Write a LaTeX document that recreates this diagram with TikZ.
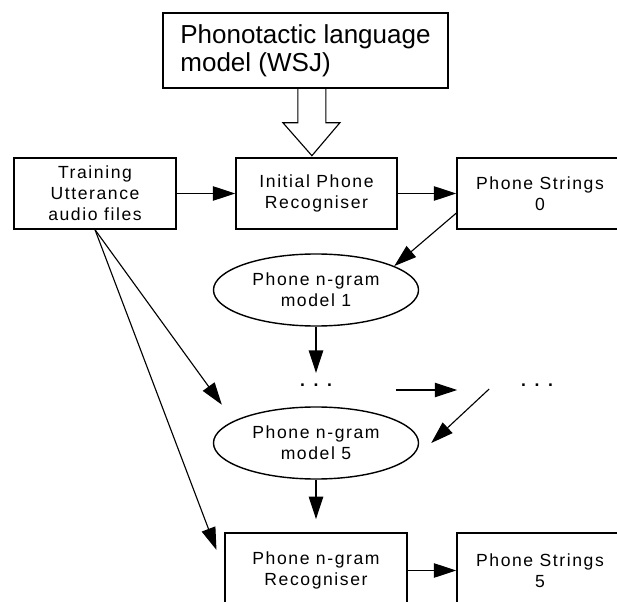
\documentclass[tikz,border=0pt]{standalone}
\usepackage{fontspec}
\setmainfont{Liberation Sans}
\newfontfamily\pixfont[LetterSpace=9]{Liberation Sans}
\usetikzlibrary{arrows.meta,shapes.geometric}

\begin{document}
\begin{tikzpicture}[x=0.025cm, y=-0.025cm,
  box/.style={draw, line width=1pt, minimum height=1.775cm, inner sep=0pt,
    align=center, font=\pixfont\fontsize{12.5}{15}\selectfont},
  model/.style={draw, ellipse, line width=1pt, minimum width=5.125cm,
    minimum height=1.8cm, inner sep=0pt, align=center,
    font=\pixfont\fontsize{12.5}{15}\selectfont},
  more/.style={inner xsep=1.59cm, inner ysep=7.5pt,
    font=\pixfont\bfseries\fontsize{12.5}{15}\selectfont},
  arr/.style={-{Triangle[length=0.56cm,width=0.36cm]}, line width=0.8pt}]
  \useasboundingbox (0,0) rectangle (617,602);
  \clip (0,0) rectangle (617,602);

  \node[draw, line width=1pt, minimum width=7.125cm, minimum height=1.875cm,
    align=left, font=\fontsize{18.5}{20}\selectfont] (lm) at (305.5,50.5)
    {Phonotactic language\\model (WSJ)};

  \node[box, minimum width=4.05cm] (train) at (95,193.5) {Training\\Utterance\\audio files};
  \node[box, minimum width=4.025cm] (init) at (316.5,193.5) {Initial Phone\\Recogniser};
  \node[box, minimum width=4.15cm] (ps0) at (540,193.5) {Phone Strings\\0};
  \node[model] (ng1) at (316,290) {Phone n-gram\\model 1};
  \node[more] (dots1) at (316,385) {. . .};
  \node[more] (dots2) at (537,385) {. . .};
  \node[model] (ng5) at (316,443) {Phone n-gram\\model 5};
  \node[box, minimum width=4.55cm, minimum height=1.875cm] (rec) at (316,570.5) {Phone n-gram\\Recogniser};
  \node[box, minimum width=4.15cm, minimum height=1.875cm] (ps5) at (540,570.5) {Phone Strings\\5};

  % hollow arrow from the language model
  \draw[line width=0.8pt] ([xshift=-0.19cm]lm.south) -- ++(0,34) -- ++(-15,0)
    -- ++(29,33) -- ++(28,-33) -- ++(-14,0) -- ++(0,-34);

  \draw[arr] (train) -- (init);
  \draw[arr] (init) -- (ps0);
  \draw[arr] ([yshift=-0.49cm]ps0.west) -- (ng1.17);
  \draw[arr] (ng1.south) -- (dots1.north);
  \draw[arr] ([yshift=-0.125cm]dots1.east) -- ([yshift=-0.125cm]dots2.west);
  \draw[arr] ([xshift=0.8cm,yshift=-0.1cm]dots2.west) -- ([xshift=0.3cm]ng5.east);
  \draw[arr, shorten >=0.5cm] (train.south) -- (ng5.165);
  \draw[arr, shorten >=0.55cm] (train.south) -- (rec.west);
  \draw[arr, shorten >=0.33cm] (ng5.south) -- (rec.north);
  \draw[arr] (rec) -- (ps5);
\end{tikzpicture}
\end{document}
